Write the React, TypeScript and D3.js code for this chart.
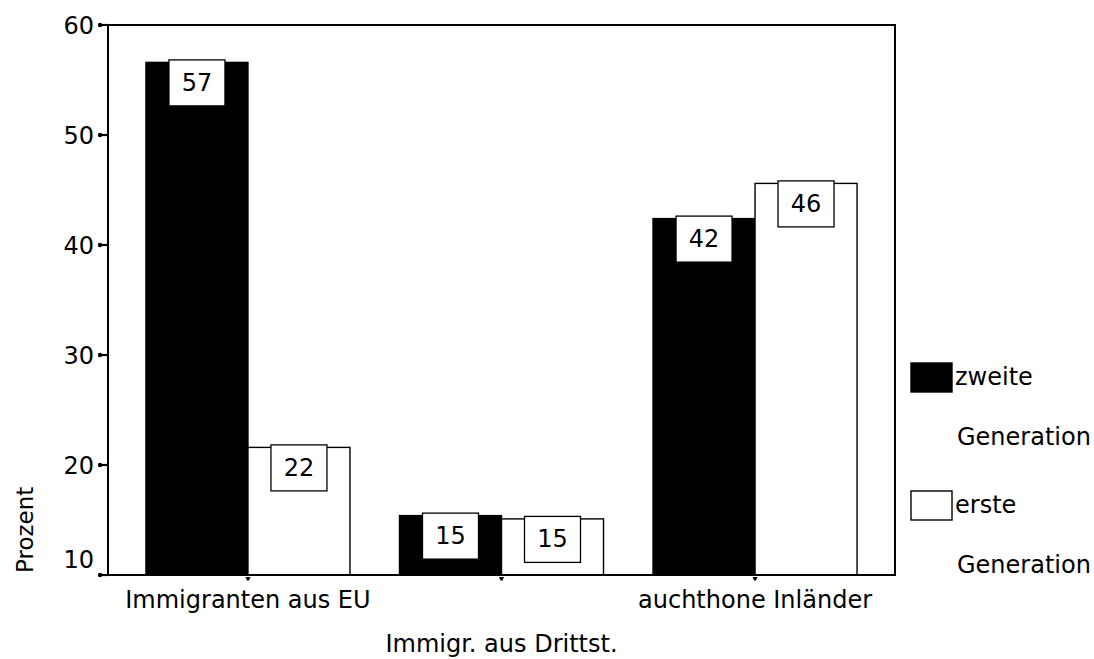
import React from "react";
import * as d3 from "d3";

const categories = ["Immigranten aus EU", "Immigr. aus Drittst.", "auchthone Inländer"];
const seriesNames = ["zweite Generation", "erste Generation"];
const zweite = [56.6, 15.4, 42.4];
const erste = [21.6, 15.1, 45.6];
const yTicks = [10, 20, 30, 40, 50, 60];
const legendLines = [["zweite", "Generation"], ["erste", "Generation"]];

const W = 1094;
const H = 659;
const left = 108;
const right = 895;
const top = 25;
const bottom = 575;
const FONT = "'DejaVu Sans', sans-serif";

export default function App() {
  const y = d3.scaleLinear().domain([10, 60]).range([bottom, top]);
  const x = d3.scalePoint<string>().domain(categories).range([left, right]).padding(0.552);
  const barW = 102;
  const x1 = d3.scaleBand<string>().domain(seriesNames).range([-barW, barW]).padding(0);
  const series = [zweite, erste];
  const fills = ["#000", "#fff"];

  return (
    <svg
      width={W}
      height={H}
      style={{ position: "absolute", left: 0, top: 0, display: "block", background: "#fff" }}
      fontFamily={FONT}
    >
      <rect x={0} y={0} width={W} height={H} fill="#fff" />
      {/* bars */}
      {categories.map((c, i) =>
        series.map((s, si) => {
          const bx = (x(c) as number) + (x1(seriesNames[si]) as number);
          const by = y(s[i]);
          return (
            <rect
              key={c + si}
              x={bx}
              y={by}
              width={x1.bandwidth()}
              height={bottom - by}
              fill={fills[si]}
              stroke="#000"
              strokeWidth={1.4}
            />
          );
        })
      )}
      {/* frame */}
      <rect x={left} y={top} width={right - left} height={bottom - top} fill="none" stroke="#000" strokeWidth={2} />
      <line x1={100} x2={left} y1={bottom} y2={bottom} stroke="#000" strokeWidth={2} />
      {/* y ticks */}
      {yTicks.map((t) => (
        <g key={t}>
          <line x1={100} x2={left} y1={y(t)} y2={y(t)} stroke="#000" strokeWidth={2.2} />
          <circle cx={100} cy={y(t)} r={2.2} fill="#000" />
          <text
            x={94}
            y={t === 10 ? y(t) - 7 : y(t) + 8.5}
            textAnchor="end"
            fontSize={24}
            fill="#000"
          >
            {t}
          </text>
        </g>
      ))}
      {/* x ticks and labels */}
      {categories.map((c, i) => (
        <g key={c}>
          <path
            d={`M${(x(c) as number) - 2.5},${bottom + 2} L${(x(c) as number) + 2.5},${bottom + 2} L${(x(c) as number) + 1},${bottom + 5.5} L${(x(c) as number) - 1},${bottom + 5.5} Z`}
            fill="#000"
          />
          <text
            x={x(c) as number}
            y={i === 1 ? 652 : 608}
            textAnchor="middle"
            fontSize={24}
            fill="#000"
          >
            {c}
          </text>
        </g>
      ))}
      {/* value labels */}
      {categories.map((c, i) =>
        series.map((s, si) => {
          const cx = (x(c) as number) + (x1(seriesNames[si]) as number) + x1.bandwidth() / 2;
          const by = y(s[i]) - 2.5;
          return (
            <g key={"l" + c + si}>
              <rect x={cx - 28} y={by} width={56} height={46} fill="#fff" stroke="#000" strokeWidth={1.3} />
              <text x={cx} y={by + 31} textAnchor="middle" fontSize={24} fill="#000">
                {Math.round(s[i])}
              </text>
            </g>
          );
        })
      )}
      {/* y axis title */}
      <text
        transform={`translate(33,573) rotate(-90)`}
        textAnchor="start"
        fontSize={23}
        fill="#000"
      >
        Prozent
      </text>
      {/* legend */}
      {legendLines.map((lines, li) => {
        const boxTop = 363 + li * 128;
        return (
          <g key={li}>
            <rect
              x={911}
              y={boxTop}
              width={41}
              height={29}
              fill={fills[li]}
              stroke="#000"
              strokeWidth={1.4}
            />
            <text x={955} y={boxTop + 22} fontSize={24} fill="#000">
              {lines[0]}
            </text>
            <text x={957} y={boxTop + 82} fontSize={24} fill="#000">
              {lines[1]}
            </text>
          </g>
        );
      })}
    </svg>
  );
}
